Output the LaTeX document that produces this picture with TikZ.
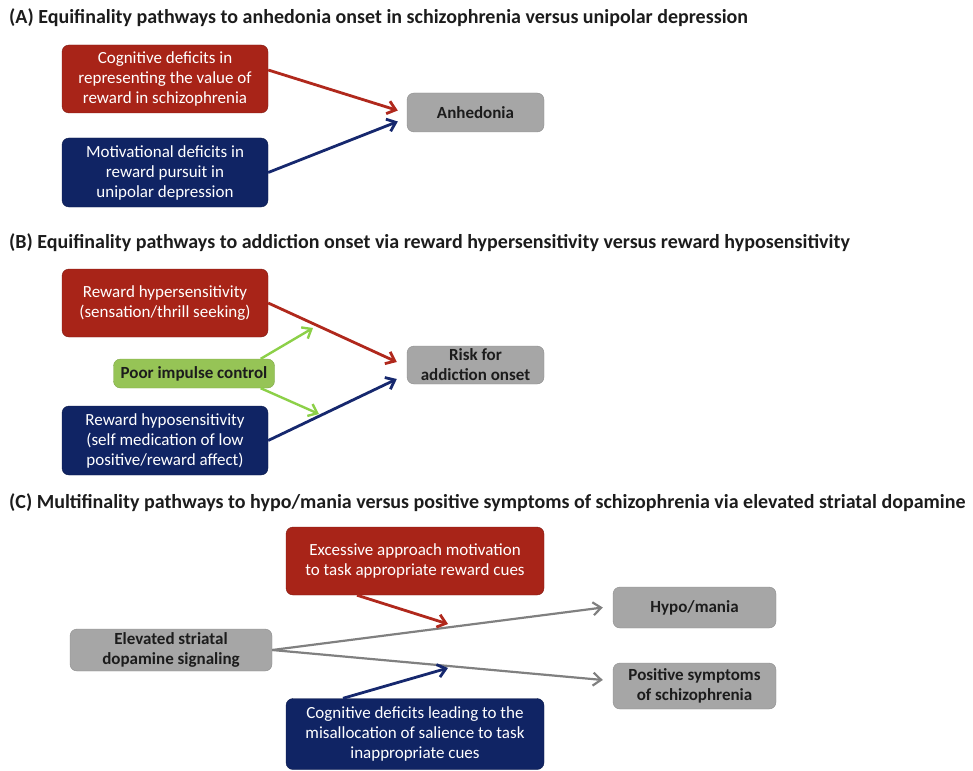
\documentclass[tikz,border=0pt]{standalone}
\usepackage{fontspec}
\setmainfont{Carlito}
\usepackage{tikz}
\usetikzlibrary{arrows.meta}
\definecolor{redfill}{RGB}{168,36,24}
\definecolor{bluefill}{RGB}{16,36,100}
\definecolor{grayfill}{RGB}{166,166,166}
\definecolor{greenfill}{RGB}{150,196,86}
\definecolor{redline}{RGB}{176,40,28}
\definecolor{blueline}{RGB}{22,40,110}
\definecolor{greenline}{RGB}{140,208,72}
\definecolor{grayline}{RGB}{128,128,128}
\definecolor{darktext}{RGB}{28,28,28}

\begin{document}
\begin{tikzpicture}[x=1pt, y=-1pt, line join=round,
    title/.style={anchor=west, inner sep=0pt, text=darktext, font=\fontsize{20}{23}\selectfont\bfseries},
    box/.style={rounded corners=7pt, align=center, inner sep=0pt, font=\fontsize{17}{20}\selectfont},
    redbox/.style={box, fill=redfill, draw=redfill!75!black, text=white},
    bluebox/.style={box, fill=bluefill, draw=bluefill!75!black, text=white},
    graybox/.style={box, fill=grayfill, draw=grayfill!85!black, text=darktext, font=\fontsize{17}{20}\selectfont\bfseries},
    greenbox/.style={box, fill=greenfill, draw=greenfill!85!black, text=darktext, font=\fontsize{17}{20}\selectfont\bfseries},
    arr/.style={-{Straight Barb[length=8pt,width=13pt]}, line width=2.8pt}]
    \useasboundingbox (0,0) rectangle (973,770);

    % (A)
    \node[title] (tA) at (9,18) {(A) Equifinality pathways to anhedonia onset in schizophrenia versus unipolar depression};
    \node[redbox, minimum width=206pt, minimum height=68pt] (cogA) at (165,79) {Cognitive deficits in\\representing the value of\\reward in schizophrenia};
    \node[bluebox, minimum width=206pt, minimum height=69pt] (motA) at (165,172.5) {Motivational deficits in\\reward pursuit in\\unipolar depression};
    \node[graybox, minimum width=137pt, minimum height=39pt] (anh) at (475.5,112.5) {Anhedonia};

    \draw[arr, redline] ([yshift=9pt]cogA.east) -- ([xshift=-9pt,yshift=2pt]anh.west);
    \draw[arr, blueline] (motA.east) -- ([xshift=-9pt,yshift=-9pt]anh.west);

    % (B)
    \node[title] (tB) at (9,243) {(B) Equifinality pathways to addiction onset via reward hypersensitivity versus reward hyposensitivity};
    \node[redbox, minimum width=206pt, minimum height=68pt] (hyper) at (165,303) {Reward hypersensitivity\\(sensation/thrill seeking)};
    \node[greenbox, minimum width=161pt, minimum height=29pt] (poor) at (194,373.5) {Poor impulse control};
    \node[bluebox, minimum width=206pt, minimum height=69pt] (hypo) at (165,440.5) {Reward hyposensitivity\\(self medication of low\\positive/reward affect)};
    \node[graybox, minimum width=137pt, minimum height=38pt] (risk) at (475.5,365) {Risk for\\addiction onset};

    \coordinate (gUp) at (313,328); % on the red arrow
    \coordinate (gDown) at (319,414); % on the blue arrow

    \draw[arr, redline] (hyper.east) -- ([xshift=-10pt,yshift=3pt]risk.west);
    \draw[arr, blueline] (hypo.east) -- ([xshift=-10pt,yshift=-14pt]risk.west);
    \draw[arr, greenline, line width=2.4pt] ([xshift=-14pt]poor.north east) -- (gUp);
    \draw[arr, greenline, line width=2.4pt] ([xshift=-14pt]poor.south east) -- (gDown);

    % (C)
    \node[title] (tC) at (9,503) {(C) Multifinality pathways to hypo/mania versus positive symptoms of schizophrenia via elevated striatal dopamine};
    \node[redbox, minimum width=258pt, minimum height=68pt] (excess) at (415,561) {Excessive approach motivation\\to task appropriate reward cues};
    \node[graybox, minimum width=202pt, minimum height=42pt] (dop) at (171,650) {Elevated striatal\\dopamine signaling};
    \node[graybox, minimum width=163pt, minimum height=41pt] (mania) at (694.5,607.5) {Hypo/mania};
    \node[graybox, minimum width=163pt, minimum height=46pt] (pos) at (694.5,686) {Positive symptoms\\of schizophrenia};
    \node[bluebox, minimum width=258pt, minimum height=71pt] (salience) at (415,734) {Cognitive deficits leading to the\\misallocation of salience to task\\inappropriate cues};

    \coordinate (cUp) at (448,624); % on the upper gray arrow
    \coordinate (cDown) at (448,668); % on the lower gray arrow

    \draw[arr, grayline, line width=2.2pt] (dop.east) -- ([xshift=-10pt]mania.west);
    \draw[arr, grayline, line width=2.2pt] (dop.east) -- ([xshift=-10pt,yshift=6pt]pos.west);
    \draw[arr, redline] ([xshift=-58pt]excess.south) -- (cUp);
    \draw[arr, blueline] ([xshift=-72pt]salience.north) -- (cDown);
\end{tikzpicture}
\end{document}
